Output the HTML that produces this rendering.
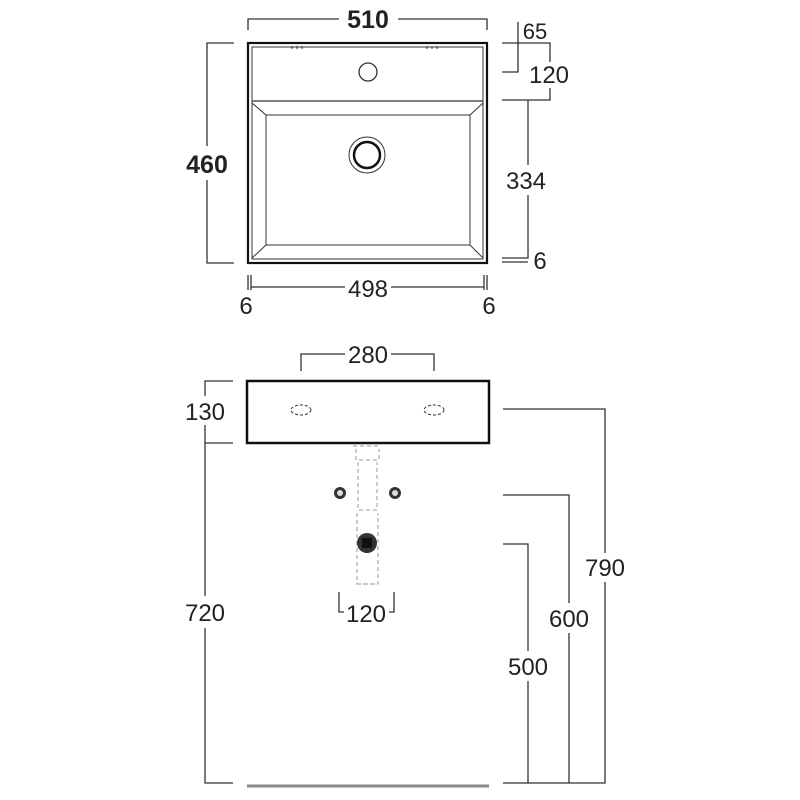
<!DOCTYPE html>
<html><head><meta charset="utf-8"><style>
html,body{margin:0;padding:0;background:#fff;}
svg{display:block;}
text{font-family:"Liberation Sans",Arial,sans-serif;fill:#222;}
</style></head><body>
<svg width="800" height="800" viewBox="0 0 800 800" xmlns="http://www.w3.org/2000/svg">
<g fill="none" stroke="#333" stroke-width="1.3">
<rect x="248" y="43" width="239" height="220" stroke="#111" stroke-width="2.2"/>
<rect x="252" y="47" width="231" height="212" stroke-width="1"/>
<line x1="252" y1="101" x2="483" y2="101"/>
<rect x="266" y="115" width="204" height="130" stroke-width="1"/>
<line x1="252" y1="103" x2="266" y2="115" stroke-width="1"/>
<line x1="483" y1="103" x2="470" y2="115" stroke-width="1"/>
<line x1="252" y1="258" x2="266" y2="245" stroke-width="1"/>
<line x1="483" y1="258" x2="470" y2="245" stroke-width="1"/>
<circle cx="368" cy="72" r="9"/>
<circle cx="367" cy="155" r="18" stroke-width="1"/>
<circle cx="367" cy="155" r="13" stroke="#111" stroke-width="2.5"/>
<path d="M292 46v3M297 46v3M302 46v3M427 46v3M432 46v3M437 46v3" stroke-width="1"/>
<path d="M248 30V19H339M398 19H487V30"/>
<path d="M234 43H207V146M207 180V263H234"/>
<path d="M518 22V72H502"/>
<path d="M502 43H550V62M550 88V100H502"/>
<path d="M528 100V165M528 195V258H502M502 262H528"/>
<path d="M248 275V290M251 275V290M487 275V290M484 275V290M251 287H345M391 287H484"/>
<rect x="247" y="381" width="242" height="62" stroke="#111" stroke-width="2.5"/>
<ellipse cx="301" cy="410" rx="10" ry="5" stroke-dasharray="3 2" stroke-width="1"/>
<ellipse cx="434" cy="410" rx="10" ry="5" stroke-dasharray="3 2" stroke-width="1"/>
<path d="M301 371V354H345M391 354H434V371"/>
<path d="M233 381H205V396M205 425V443H233M205 443V596M205 628V783H233"/>
<path d="M503 409H605V553M605 582V783H503M503 495H569V603M569 633V783M503 544H528V651M528 681V783"/>
<line x1="247" y1="786" x2="489" y2="786" stroke="#888" stroke-width="3"/>
<path d="M339 592V612H344M394 592V612H389"/>
<g stroke="#aaa" stroke-width="1.2" stroke-dasharray="4 3">
<path d="M353 446H380M356 449V460H379V449M358 462V510H377V462M357 513V584H378V513M357 584H378"/>
</g>
</g>
<circle cx="340" cy="493" r="6" fill="#333"/><circle cx="340" cy="493" r="3" fill="#ddd"/>
<circle cx="395" cy="493" r="6" fill="#333"/><circle cx="395" cy="493" r="3" fill="#ddd"/>
<circle cx="367" cy="543" r="10" fill="#333"/><rect x="362" y="538" width="10" height="10" fill="#111"/>
<g font-size="24" text-anchor="middle">
<text x="368" y="28" font-weight="bold" font-size="25">510</text>
<text x="207" y="173" font-weight="bold" font-size="25">460</text>
<text x="535" y="39" font-size="22">65</text>
<text x="549" y="83">120</text>
<text x="526" y="189">334</text>
<text x="540" y="269">6</text>
<text x="368" y="297">498</text>
<text x="246" y="314">6</text>
<text x="489" y="314">6</text>
<text x="368" y="363">280</text>
<text x="205" y="420">130</text>
<text x="205" y="621">720</text>
<text x="366" y="622">120</text>
<text x="605" y="576">790</text>
<text x="569" y="627">600</text>
<text x="528" y="675">500</text>
</g>
</svg>
</body></html>
